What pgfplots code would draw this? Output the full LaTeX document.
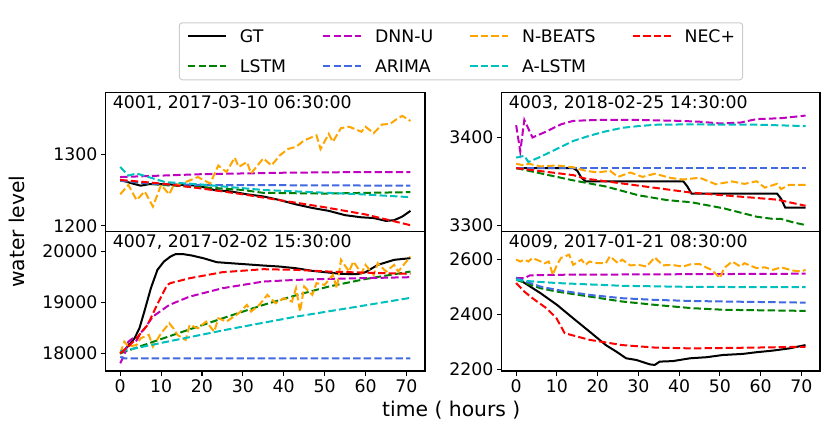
\documentclass[border=0pt]{standalone}
\usepackage{pgfplots}
\pgfplotsset{compat=1.18}
\usepackage{fontspec}
\setmainfont{DejaVu Sans}
\definecolor{cG}{rgb}{0,0.5,0}
\definecolor{cM}{rgb}{0.75,0,0.75}
\definecolor{cB}{RGB}{65,105,225}
\definecolor{cO}{RGB}{255,165,0}
\definecolor{cC}{rgb}{0,0.75,0.75}
\definecolor{cR}{rgb}{1,0,0}
\newcommand{\fs}{\fontsize{17.3}{20}\selectfont}
\newcommand{\fl}{\fontsize{20.3}{24}\selectfont}
\pgfplotsset{
  panel/.style={scale only axis, width=319.3pt, height=139.5pt, anchor=south west,
    xmin=-3.55, xmax=74.55, tick align=outside, xtick pos=left, ytick pos=left,
    major tick length=4.7pt, axis line style={line width=1.07pt},
    every tick/.style={black, line width=1.07pt},
    ticklabel style={font=\fs}, scaled y ticks=false, scaled x ticks=false,
    xtick={0,10,20,30,40,50,60,70}, xticklabels={0,10,20,30,40,50,60,70},
    clip=true},
  notx/.style={xtick=\empty},
  ln/.style={line width=2pt, dash pattern=on 7.4pt off 3.2pt},
  gt/.style={black, line width=2pt, solid},
}
\newcommand{\ttl}[1]{\node[anchor=base west, inner sep=0pt, font=\fs] at ([xshift=7pt,yshift=-16.4pt]rel axis cs:0,1) {#1};}
\begin{document}
\begin{tikzpicture}
% top-left
\begin{axis}[panel, notx, at={(105.7pt,199.3pt)},
  ymin=1192, ymax=1386, ytick={1200,1300}, yticklabels={1200,1300},
  legend columns=4, legend cell align=left,
  legend image code/.code={\draw[#1] (0pt,0pt) -- (38pt,0pt);},
  legend style={at={(1.1128,1.2935)}, anchor=center, draw=black!20, line width=1pt,
    rounded corners=3pt, fill=white, inner xsep=7.6pt, inner ysep=7.2pt, font=\fs,
    nodes={inner sep=0pt, text height=12.6pt, text depth=0pt},
    row sep=17.4pt,
    /tikz/every odd column/.style={column sep=13pt},
    /tikz/every even column/.style={column sep=36pt}}]
\addlegendimage{gt}\addlegendentry{GT}
\addlegendimage{ln,cM}\addlegendentry{DNN-U}
\addlegendimage{ln,cO}\addlegendentry{N-BEATS}
\addlegendimage{ln,cR}\addlegendentry{NEC+}
\addlegendimage{ln,cG}\addlegendentry{LSTM}
\addlegendimage{ln,cB}\addlegendentry{ARIMA}
\addlegendimage{ln,cC}\addlegendentry{A-LSTM}
\addplot[gt, forget plot] coordinates {(0,1264)(3,1259)(5,1256)(7,1258)(11,1258)(15,1257)(19,1256)(23,1250)(27,1248)(31,1244)(35,1241)(39,1236)(43,1230)(47,1225)(51,1221)(55,1215)(59,1212)(62,1211)(65,1207)(67,1208)(69,1213)(71,1221)};
\addplot[ln, cG, forget plot] coordinates {(0,1263)(5,1260)(10,1257)(20,1254)(30,1250)(35,1246)(50,1245)(60,1246)(71,1247)};
\addplot[ln, cM, forget plot] coordinates {(0,1268)(10,1270)(20,1272)(30,1273)(40,1274)(50,1274.5)(60,1275)(71,1275)};
\addplot[ln, cB, forget plot] coordinates {(0,1263)(5,1260)(10,1258)(20,1257)(71,1256)};
\addplot[ln, cO, forget plot] coordinates {(0,1244)(2,1257)(4,1236)(6,1248)(8,1227)(10,1257)(12,1244)(13,1256)(16,1261)(19,1268)(22,1259)(24,1284)(26,1275)(28,1295)(29,1282)(31,1289)(32,1273)(35,1294)(37,1284)(39,1298)(41,1307)(43,1310)(45,1319)(48,1326)(49,1307)(51,1328)(52,1317)(54,1336)(56,1338)(59,1331)(60,1338)(62,1329)(64,1341)(66,1342)(68,1350)(69,1353)(71,1346)};
\addplot[ln, cC, forget plot] coordinates {(0,1282)(2,1270)(4,1273)(11,1261)(19,1258)(27,1254)(35,1250)(43,1248)(51,1246)(59,1244)(71,1240)};
\addplot[ln, cR, forget plot] coordinates {(0,1264)(10,1259)(20,1252)(30,1244)(40,1235)(50,1226)(60,1216)(71,1201)};
\ttl{4001, 2017-03-10 06:30:00}
\end{axis}
% bottom-left
\begin{axis}[panel, at={(105.7pt,60pt)},
  ymin=17652, ymax=20394, ytick={18000,19000,20000}, yticklabels={18000,19000,20000}]
\addplot[gt] coordinates {(0,17990)(1,18060)(2,18150)(3.5,18295)(4.7,18492)(5.9,18820)(7.5,19279)(9.1,19640)(10.7,19804)(12.3,19902)(13.5,19948)(15.5,19948)(17.5,19922)(20.3,19870)(23.6,19791)(27,19771)(35,19725)(39,19705)(43,19672)(47,19620)(51,19587)(54,19561)(58,19555)(60,19594)(63,19738)(67,19837)(71,19870)};
\addplot[ln, cG] coordinates {(0,18000)(10,18280)(19,18525)(27,18740)(35,18951)(43,19140)(51,19312)(60,19460)(71,19607)};
\addplot[ln, cM] coordinates {(0,17803)(1,17967)(2,18230)(3,18290)(4,18250)(5,18400)(6,18492)(8,18722)(12,18951)(17,19115)(25,19279)(35,19410)(43,19443)(51,19463)(59,19476)(71,19496)};
\addplot[ln, cB] coordinates {(0,17930)(1,17900)(71,17900)};
\addplot[ln, cO] coordinates {(0,18000)(1,18230)(2,18131)(4,18164)(5,18295)(7,18361)(8,18131)(10,18394)(12,18590)(13,18492)(14,18361)(16,18262)(17,18558)(19,18492)(21,18623)(23,18426)(24,18689)(26,18623)(29,18787)(31,18951)(32,18820)(34,18951)(36,19148)(38,18984)(40,19082)(42,19017)(43,19279)(44,18820)(45,19312)(47,19148)(48,19378)(50,19345)(52,19542)(53,19279)(54,19837)(56,19607)(57,19804)(59,19574)(60,19738)(62,19542)(63,19771)(65,19607)(67,19738)(68,19607)(71,19902)};
\addplot[ln, cC] coordinates {(0,18040)(2,18070)(11,18220)(27,18480)(43,18720)(59,18930)(71,19090)};
\addplot[ln, cR] coordinates {(0,18000)(2,18131)(4,18295)(6.7,18558)(9,18951)(11.5,19345)(12.3,19380)(17,19476)(25,19594)(35,19653)(43,19640)(51,19607)(59,19587)(71,19561)};
\ttl{4007, 2017-02-02 15:30:00}
\end{axis}
% top-right
\begin{axis}[panel, notx, at={(501.7pt,199.3pt)}, width=318.3pt,
  ymin=3292.4, ymax=3451.7, ytick={3300,3400}, yticklabels={3300,3400}]
\addplot[gt] coordinates {(0,3365)(14,3365)(15,3362)(16,3354)(17,3350)(41,3350)(42,3344)(43,3336)(64,3336)(65,3330)(66,3320)(71,3320)};
\addplot[ln, cG] coordinates {(0,3365)(5,3360)(10,3355)(14,3351)(22,3344)(30,3334)(37,3328.5)(43,3326)(51,3319)(59,3309.5)(63,3307)(65,3307)(68,3303)(71,3300)};
\addplot[ln, cM] coordinates {(0,3414)(1,3384)(2,3420)(4,3400)(7,3406)(11,3415)(14,3419)(20,3420)(30,3420)(40,3419)(45,3418)(50,3416)(55,3417)(59,3421)(65,3422)(71,3425)};
\addplot[ln, cB] coordinates {(0,3365)(71,3365)};
\addplot[ln, cO] coordinates {(0,3370)(2,3368)(3,3370)(6,3367)(10,3368)(14,3366)(17,3362)(20,3360)(23,3362)(25,3355)(28,3360)(31,3355)(34,3358.6)(38,3353.7)(41,3352)(45,3354)(49,3346.6)(53,3349.8)(56,3347)(59,3350)(61,3342.7)(64,3347)(65,3341)(67,3346)(71,3346)};
\addplot[ln, cC] coordinates {(0,3377)(2,3379)(3,3372)(6,3378)(10,3387)(14,3396)(18,3402)(22,3407)(26,3411)(30,3413)(34,3414.5)(43,3415)(51,3414.6)(59,3414.6)(71,3413)};
\addplot[ln, cR] coordinates {(0,3365)(14,3357)(17,3353)(30,3345)(43,3337)(64,3329)(71,3322)};
\ttl{4003, 2018-02-25 14:30:00}
\end{axis}
% bottom-right
\begin{axis}[panel, at={(501.7pt,60pt)}, width=318.3pt,
  ymin=2194, ymax=2700, ytick={2200,2400,2600}, yticklabels={2200,2400,2600}]
\addplot[gt] coordinates {(0,2533)(6,2476)(10,2434)(14,2385)(18,2337)(22,2288)(24.6,2264)(27,2240)(29.5,2234)(32.8,2218)(34,2216)(35.2,2228)(38.5,2230)(42.6,2240)(46.7,2244)(50.7,2252)(55.6,2256)(58.9,2262)(63,2268)(67,2276)(71,2288)};
\addplot[ln, cG] coordinates {(0,2525)(6,2494)(10,2482)(18,2464)(26,2446)(34,2434)(43,2422)(51,2416)(71,2412)};
\addplot[ln, cM] coordinates {(0,2531)(2,2531)(3.4,2541)(10,2543)(71,2547)};
\addplot[ln, cB] coordinates {(0,2531)(6,2500)(10,2488)(18,2470)(26,2458)(34,2452)(43,2448)(51,2446)(71,2442)};
\addplot[ln, cO] coordinates {(0,2598)(1,2591)(2,2598)(3,2591)(4,2604)(7,2585)(8,2591)(9,2543)(10,2579)(11,2604)(12,2610)(13,2616)(14,2579)(16,2598)(17,2579)(18,2591)(20,2585)(22,2585)(23,2610)(25,2585)(26,2598)(28,2577)(30,2579)(32,2573)(34,2606)(36,2577)(38,2579)(41,2573)(43,2582)(45,2582)(47,2567)(48,2561)(50,2531)(51,2567)(53,2591)(55,2573)(56,2585)(59,2567)(61,2570)(63,2561)(65,2570)(68,2558)(70,2555)(71,2561)};
\addplot[ln, cC] coordinates {(0,2525)(2,2521)(10,2513)(26,2503)(43,2499)(71,2498)};
\addplot[ln, cR] coordinates {(0,2513)(2,2482)(4,2458)(7.4,2422)(9.9,2385)(11.9,2331)(18,2307)(26,2288)(34,2279)(43,2276)(59,2279)(71,2282)};
\ttl{4009, 2017-01-21 08:30:00}
\end{axis}
\node[rotate=90, anchor=base, inner sep=0pt, font=\fl] at (24pt,199.3pt) {water level};
\node[anchor=base, inner sep=0pt, font=\fl] at (451.3pt,14.3pt) {time ( hours )};
\pgfresetboundingbox
\path[use as bounding box] (0,0) rectangle (830pt,431pt);
\end{tikzpicture}
\end{document}
